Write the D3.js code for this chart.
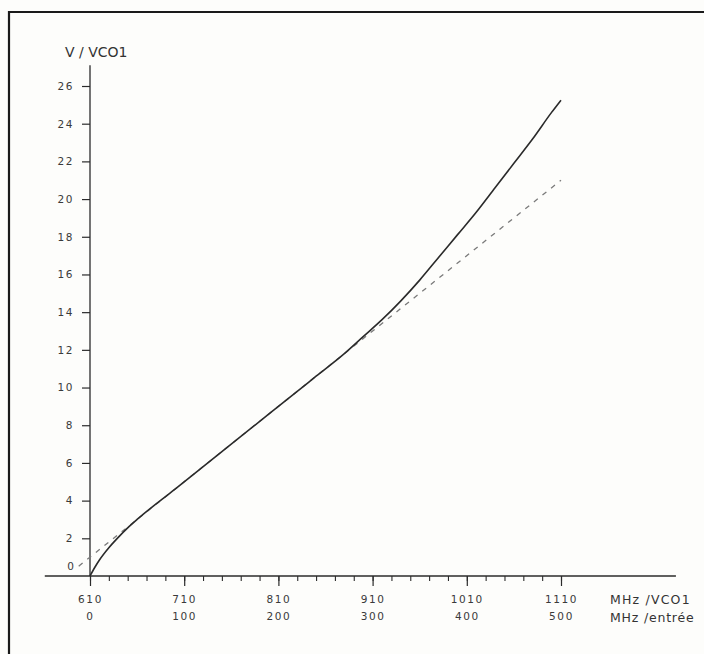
<!DOCTYPE html>
<html>
<head>
<meta charset="utf-8">
<script src="https://cdn.jsdelivr.net/npm/d3@7"></script>
<style>
  html, body { margin: 0; padding: 0; background: #fdfdfb; }
  svg { display: block; }
  .tick text { font-family: "DejaVu Sans", sans-serif; font-size: 10.5px; letter-spacing: 1.6px; fill: #3a3a3a; }
</style>
</head>
<body>
<svg id="chart" width="704" height="654"></svg>
<script>
// frequencies at the VCO1 (MHz) and the matching input frequencies
const vcoTicks = [610, 710, 810, 910, 1010, 1110];
const entreeTicks = [0, 100, 200, 300, 400, 500];
const minorTicks = d3.range(610, 1111, 20);
const voltTicks = [2, 4, 6, 8, 10, 12, 14, 16, 18, 20, 22, 24, 26];

// measured curve: [MHz VCO1, V]
const measured = [
  [610, 0], [615, 0.45], [620, 0.85], [630, 1.5], [640, 2.05], [650, 2.55],
  [660, 3.0], [700, 4.6], [750, 6.6], [800, 8.6], [850, 10.6], [880, 11.8],
  [900, 12.7], [920, 13.6], [940, 14.6], [960, 15.7], [980, 16.9],
  [1000, 18.1], [1020, 19.3], [1040, 20.6], [1060, 21.9], [1080, 23.2],
  [1100, 24.6], [1110, 25.25]
];
// linear approximation (dashed)
const linear = [[598, 0.52], [1110, 21]];

const svg = d3.select('#chart');

// frame of the original drawing
svg.append('path')
  .attr('d', 'M9,654 V12 H704')
  .attr('fill', 'none')
  .attr('stroke', '#1a1a1a')
  .attr('stroke-width', 2.2);

const x = d3.scaleLinear().domain([610, 1110]).range([90, 561]);
const y = d3.scaleLinear().domain([0, 26]).range([576, 86]);

const ink = '#2b2b2b';

// axis lines, drawn a bit past the data range like the original
svg.append('line')
  .attr('x1', x(562)).attr('x2', x(1232))
  .attr('y1', y(0)).attr('y2', y(0))
  .attr('stroke', ink).attr('stroke-width', 1.3);

svg.append('line')
  .attr('x1', x(610)).attr('x2', x(610))
  .attr('y1', y(0)).attr('y2', y(27.1))
  .attr('stroke', ink).attr('stroke-width', 1.3);

// minor ticks on the frequency axis
svg.append('g')
  .attr('transform', `translate(0,${y(0)})`)
  .call(d3.axisBottom(x).tickValues(minorTicks).tickSize(5).tickFormat(''))
  .call(g => g.select('.domain').remove())
  .call(g => g.selectAll('line').attr('stroke', ink).attr('stroke-width', 1.1));

// major ticks + VCO1 labels
svg.append('g')
  .attr('transform', `translate(0,${y(0)})`)
  .call(d3.axisBottom(x).tickValues(vcoTicks).tickSize(10).tickPadding(10).tickFormat(d3.format('d')))
  .call(g => g.select('.domain').remove())
  .call(g => g.selectAll('line').attr('stroke', ink).attr('stroke-width', 1.2));

// input frequency labels (second row)
const xIn = d3.scaleLinear().domain([0, 500]).range(x.range());
svg.append('g')
  .attr('transform', `translate(0,${y(0)})`)
  .call(d3.axisBottom(xIn).tickValues(entreeTicks).tickSize(0).tickPadding(37).tickFormat(d3.format('d')))
  .call(g => g.select('.domain').remove());

// voltage axis
svg.append('g')
  .attr('transform', `translate(${x(610)},0)`)
  .call(d3.axisLeft(y).tickValues(voltTicks).tickSize(8).tickPadding(8))
  .call(g => g.select('.domain').remove())
  .call(g => g.selectAll('line').attr('stroke', ink).attr('stroke-width', 1.2));

svg.append('text')
  .attr('x', 74).attr('y', y(0.5))
  .attr('text-anchor', 'end')
  .attr('dy', '0.32em')
  .style('font-family', '"DejaVu Sans", sans-serif')
  .style('font-size', '10.5px')
  .style('fill', '#3a3a3a')
  .text('0');

// axis titles
const titleStyle = sel => sel
  .style('font-family', '"DejaVu Sans", sans-serif')
  .style('fill', '#333');

svg.append('text')
  .attr('x', 65).attr('y', 57)
  .call(titleStyle)
  .style('font-size', '14px')
  .text('V / VCO1');

svg.append('text')
  .attr('x', 610).attr('y', 604)
  .call(titleStyle)
  .style('font-size', '12.5px')
  .style('letter-spacing', '1.2px')
  .text('MHz /VCO1');

svg.append('text')
  .attr('x', 610).attr('y', 622)
  .call(titleStyle)
  .style('font-size', '12.5px')
  .style('letter-spacing', '0.8px')
  .text('MHz /entrée');

const line = d3.line()
  .x(d => x(d[0]))
  .y(d => y(d[1]));

svg.append('path')
  .datum(linear)
  .attr('fill', 'none')
  .attr('stroke', '#7a7a7a')
  .attr('stroke-width', 1.3)
  .attr('stroke-dasharray', '5,6')
  .attr('d', line);

svg.append('path')
  .datum(measured)
  .attr('fill', 'none')
  .attr('stroke', '#2a2a2a')
  .attr('stroke-width', 1.6)
  .attr('d', line.curve(d3.curveMonotoneX));
</script>
</body>
</html>
